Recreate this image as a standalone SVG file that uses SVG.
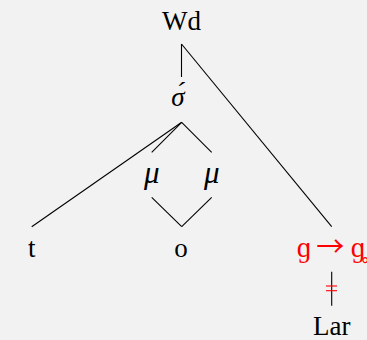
<svg xmlns="http://www.w3.org/2000/svg" width="367" height="340" viewBox="0 0 367 340">
<style>
text{font-family:"Liberation Serif","DejaVu Serif",serif;font-size:27px;fill:#000;text-anchor:middle}
.it{font-style:italic}
.mu{font-size:31px}
.red{fill:#ff0000;font-size:29px}
.arr{font-family:"Noto Sans CJK SC",sans-serif;font-size:28px}
.c line{stroke:#000;stroke-width:1.1;fill:none}
.c line.r{stroke:#ff0000}
</style>
<rect width="367" height="340" fill="#f2f2f2"/>
<g class="c" id="connectors">
<line x1="181.5" y1="44" x2="181.5" y2="77"/>
<line x1="181.5" y1="44" x2="331.7" y2="226.7"/>
<line x1="181.7" y1="122.3" x2="31.7" y2="226.7"/>
<line x1="181.7" y1="122.3" x2="151.7" y2="152.3"/>
<line x1="181.7" y1="122.3" x2="211.7" y2="152.3"/>
<line x1="151.7" y1="197.3" x2="181.7" y2="226.7"/>
<line x1="211.7" y1="197.3" x2="181.7" y2="226.7"/>
<line x1="331.7" y1="271.7" x2="331.7" y2="305.7"/>
<line class="r" x1="326" y1="286" x2="337" y2="286"/>
<line class="r" x1="326" y1="290.7" x2="337" y2="290.7"/>
</g>
<g id="wd"><text x="181.5" y="30">Wd</text></g>
<g id="sigma"><text class="it" x="178" y="106">σ́</text></g>
<g id="mu1"><text class="it mu" x="151.7" y="183">μ</text></g>
<g id="mu2"><text class="it mu" x="211.7" y="183">μ</text></g>
<g id="t"><text x="31.7" y="257">t</text></g>
<g id="o"><text x="181" y="257">o</text></g>
<g id="g"><text class="red" y="257"><tspan x="304">ɡ</tspan><tspan class="arr" x="330.3">→</tspan><tspan x="358">ɡ̥</tspan></text></g>
<g id="lar"><text x="331.7" y="335">Lar</text></g>
</svg>
